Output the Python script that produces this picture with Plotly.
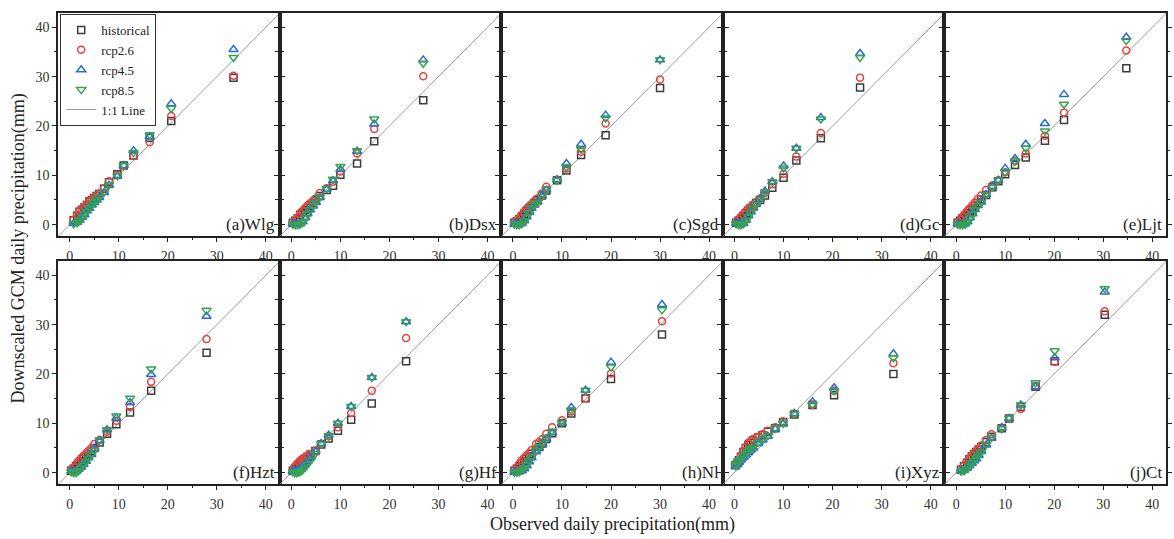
import plotly.graph_objects as go
from plotly.subplots import make_subplots

# ---------------- data ----------------
stations = ["(a)Wlg", "(b)Dsx", "(c)Sgd", "(d)Gc", "(e)Ljt",
            "(f)Hzt", "(g)Hf", "(h)Nl", "(i)Xyz", "(j)Ct"]
series_names = ["historical", "rcp2.6", "rcp4.5", "rcp8.5"]

obs_a = [0.8, 1.5, 2, 2.5, 3, 3.5, 4, 4.5, 5, 5.5, 6, 7, 8, 9.7, 11, 13, 16.3, 20.7, 33.4]
hist_a = [0.9, 1.8, 2.6, 3.0, 3.5, 4.0, 4.7, 5.0, 5.4, 5.8, 6.2, 7.3, 8.6, 10.2, 12.0, 14.0, 17.6, 21.0, 29.8]
r26_a = [1.0, 1.9, 2.7, 3.1, 3.6, 4.1, 4.8, 5.1, 5.5, 5.9, 6.3, 7.4, 8.8, 10.1, 11.9, 13.9, 16.7, 22.0, 30.2]
r45_a = [0.3, 0.5, 0.9, 1.5, 2.0, 2.8, 3.3, 4.0, 4.5, 5.0, 5.5, 6.5, 8.0, 9.8, 12.0, 15.0, 17.8, 24.5, 35.5]
r85_a = [0.2, 0.4, 0.8, 1.4, 2.1, 2.7, 3.4, 4.0, 4.6, 5.0, 5.6, 6.6, 8.1, 9.9, 12.0, 14.6, 18.2, 23.6, 33.9]

obs_b = [0.3, 0.8, 1.3, 1.8, 2.3, 2.8, 3.3, 3.8, 4.4, 5, 5.8, 7.2, 8.5, 10, 13.4, 16.9, 26.9]
hist_b = [0.4, 0.8, 1.3, 2.0, 2.4, 2.9, 3.4, 3.9, 4.4, 5.0, 5.8, 7.0, 7.9, 10.1, 12.4, 16.9, 25.2]
r26_b = [0.5, 0.9, 1.5, 2.2, 2.8, 3.3, 3.9, 4.3, 4.8, 5.3, 6.4, 7.4, 8.7, 10.8, 14.4, 19.4, 30.1]
r45_b = [0.2, 0.1, 0.1, 0.2, 0.6, 1.4, 2.2, 3.0, 3.8, 4.5, 5.5, 7.2, 8.9, 11.2, 14.9, 20.4, 33.4]
r85_b = [0.1, 0.0, 0.0, 0.1, 0.5, 1.3, 2.1, 3.0, 3.9, 4.6, 5.6, 7.3, 9.2, 11.8, 15.0, 21.4, 32.7]

obs_c = [0.3, 0.8, 1.3, 1.8, 2.3, 2.8, 3.3, 3.8, 4.4, 5, 5.9, 6.8, 9, 10.9, 13.9, 18.9, 30]
hist_c = [0.4, 0.7, 1.1, 1.6, 2.2, 2.8, 3.3, 3.8, 4.4, 5.0, 5.9, 6.9, 9.0, 11.0, 14.1, 18.1, 27.7]
r26_c = [0.5, 0.8, 1.3, 2.0, 2.6, 3.2, 3.7, 4.2, 4.8, 5.3, 6.3, 7.7, 9.1, 11.4, 14.8, 20.5, 29.4]
r45_c = [0.2, 0.1, 0.1, 0.3, 0.8, 1.6, 2.5, 3.3, 4.0, 4.6, 5.8, 7.0, 9.1, 12.4, 16.3, 22.2, 33.4]
r85_c = [0.1, 0.0, 0.0, 0.2, 0.7, 1.5, 2.4, 3.3, 4.0, 4.5, 5.7, 7.1, 9.0, 11.7, 15.3, 21.6, 33.4]

obs_d = [0.3, 0.8, 1.3, 1.8, 2.3, 2.8, 3.3, 3.8, 4.4, 5.2, 6.2, 7.7, 10, 12.6, 17.6, 25.6]
hist_d = [0.4, 0.8, 1.2, 1.7, 2.3, 2.8, 3.3, 3.8, 4.4, 5.0, 5.9, 7.5, 9.5, 13.0, 17.5, 27.8]
r26_d = [0.5, 1.0, 1.6, 2.1, 2.7, 3.2, 3.6, 4.1, 4.6, 5.3, 6.4, 8.2, 10.3, 13.8, 18.6, 29.8]
r45_d = [0.3, 0.2, 0.1, 0.3, 0.9, 1.8, 2.6, 3.4, 4.2, 5.2, 6.8, 8.7, 11.9, 15.5, 21.7, 34.7]
r85_d = [0.2, 0.0, 0.0, 0.2, 0.7, 1.6, 2.5, 3.3, 4.1, 5.1, 6.6, 8.7, 11.5, 15.5, 21.4, 33.9]

obs_e = [0.3, 0.8, 1.3, 1.8, 2.3, 2.8, 3.3, 3.8, 4.4, 5.1, 6.1, 7.4, 8.6, 10, 12, 14.2, 18.1, 22, 34.7]
hist_e = [0.4, 0.8, 1.3, 1.8, 2.3, 2.8, 3.3, 3.8, 4.4, 5.1, 6.0, 7.6, 8.8, 10.2, 12.1, 13.6, 17.0, 21.2, 31.7]
r26_e = [0.5, 1.0, 1.6, 2.2, 2.8, 3.3, 3.9, 4.5, 5.2, 5.9, 7.0, 8.0, 9.0, 10.6, 12.9, 14.4, 18.0, 22.7, 35.3]
r45_e = [0.2, 0.1, 0.0, 0.2, 0.6, 1.4, 2.2, 3.1, 3.9, 4.6, 6.1, 7.7, 9.0, 11.4, 13.4, 16.3, 20.5, 26.4, 38.0]
r85_e = [0.1, 0.0, 0.0, 0.1, 0.5, 1.3, 2.1, 3.0, 3.8, 4.5, 6.1, 7.6, 9.0, 10.7, 12.9, 15.5, 19.0, 24.4, 37.3]

obs_f = [0.3, 0.8, 1.3, 1.8, 2.3, 2.8, 3.3, 3.8, 4.4, 5, 6.1, 7.6, 9.5, 12.3, 16.6, 27.9]
hist_f = [0.4, 0.8, 1.3, 1.8, 2.3, 2.8, 3.3, 3.8, 4.4, 5.0, 6.1, 7.9, 9.8, 12.2, 16.6, 24.3]
r26_f = [0.6, 1.1, 1.7, 2.3, 2.9, 3.4, 3.9, 4.4, 5.0, 5.8, 6.6, 8.3, 10.5, 13.3, 18.4, 27.1]
r45_f = [0.3, 0.2, 0.3, 0.7, 1.1, 1.7, 2.3, 3.0, 3.7, 4.8, 6.5, 8.7, 11.1, 14.2, 19.9, 31.7]
r85_f = [0.2, 0.0, 0.0, 0.4, 0.9, 1.5, 2.2, 2.9, 3.6, 4.6, 6.6, 8.7, 11.5, 15.1, 21.0, 32.9]

obs_g = [0.3, 0.7, 1.1, 1.5, 1.9, 2.3, 2.8, 3.3, 3.9, 4.9, 6.1, 7.6, 9.5, 12.2, 16.4, 23.4]
hist_g = [0.4, 0.8, 1.2, 1.6, 2.0, 2.4, 2.8, 3.2, 3.7, 4.4, 5.7, 6.9, 8.5, 10.7, 14.0, 22.6]
r26_g = [0.5, 1.2, 1.7, 2.1, 2.5, 2.8, 3.1, 3.4, 3.8, 4.5, 5.8, 7.4, 9.2, 12.1, 16.6, 27.3]
r45_g = [0.3, 0.3, 0.3, 0.5, 0.8, 1.2, 1.7, 2.3, 3.0, 4.3, 5.9, 7.6, 10.0, 13.4, 19.3, 30.6]
r85_g = [0.2, 0.0, 0.0, 0.1, 0.3, 0.6, 1.1, 1.7, 2.5, 3.9, 5.8, 7.5, 10.0, 13.4, 19.3, 30.6]

obs_h = [0.3, 0.8, 1.3, 1.8, 2.3, 2.8, 3.3, 3.8, 4.7, 5.3, 6, 6.8, 8, 10, 11.9, 14.8, 20, 30.4]
hist_h = [0.4, 0.8, 1.3, 1.8, 2.3, 2.8, 3.3, 3.8, 4.6, 5.2, 5.9, 6.8, 8.0, 10.0, 12.0, 15.1, 19.0, 28.0]
r26_h = [0.5, 1.1, 1.8, 2.5, 3.0, 3.5, 4.0, 4.6, 5.8, 6.2, 6.8, 7.9, 9.2, 10.6, 12.4, 15.1, 20.1, 30.7]
r45_h = [0.2, 0.1, 0.2, 0.4, 0.8, 1.4, 2.2, 3.0, 4.3, 5.0, 5.8, 6.9, 8.1, 10.0, 13.2, 16.7, 22.4, 34.1]
r85_h = [0.1, 0.1, 0.2, 0.5, 1.0, 1.6, 2.4, 3.2, 4.5, 5.2, 6.0, 7.1, 8.4, 10.1, 12.7, 16.7, 21.4, 33.0]

obs_i = [0.2, 0.6, 0.9, 1.3, 1.8, 2.3, 2.8, 3.3, 3.8, 4.8, 5.7, 6.8, 8.3, 9.9, 12.2, 15.9, 20.3, 32.4]
hist_i = [1.5, 2.0, 2.5, 3.2, 4.2, 5.0, 5.6, 6.0, 6.5, 7.1, 7.6, 8.3, 9.0, 10.2, 11.8, 13.7, 15.7, 20.0]
r26_i = [1.6, 2.1, 2.6, 3.4, 4.4, 5.2, 6.0, 6.4, 6.8, 7.3, 7.8, 8.5, 9.2, 10.4, 11.9, 13.8, 16.6, 22.2]
r45_i = [1.3, 1.7, 2.1, 2.6, 3.1, 3.6, 4.1, 4.6, 5.0, 5.9, 6.6, 7.4, 8.8, 9.9, 12.0, 14.4, 17.2, 24.1]
r85_i = [1.4, 1.8, 2.3, 2.8, 3.4, 3.9, 4.4, 4.8, 5.2, 6.1, 6.8, 7.5, 9.0, 10.0, 11.9, 13.8, 16.6, 23.3]

obs_j = [1.0, 1.6, 2.2, 2.7, 3.2, 3.7, 4.1, 4.6, 5.1, 6.1, 7.2, 9.3, 10.8, 13.2, 16.2, 20.1, 30.3]
hist_j = [0.6, 1.3, 2.0, 2.7, 3.3, 3.8, 4.2, 4.7, 5.2, 6.2, 7.3, 9.0, 11.0, 13.3, 17.4, 22.6, 32.0]
r26_j = [0.7, 1.5, 2.2, 2.9, 3.5, 4.0, 4.4, 4.9, 5.5, 6.6, 7.8, 9.1, 11.0, 12.9, 17.5, 22.5, 32.7]
r45_j = [0.4, 0.5, 0.9, 1.4, 1.9, 2.4, 2.8, 3.5, 4.3, 5.6, 7.0, 9.1, 11.0, 13.7, 17.4, 23.3, 36.6]
r85_j = [0.3, 0.4, 0.8, 1.3, 2.0, 2.5, 3.0, 3.6, 4.2, 5.7, 7.1, 8.9, 11.1, 13.7, 18.2, 24.7, 37.3]

tick_vals = [0, 10, 20, 30, 40]
one_to_one = [-5, 50]

panels = [
    (obs_a, [hist_a, r26_a, r45_a, r85_a]),
    (obs_b, [hist_b, r26_b, r45_b, r85_b]),
    (obs_c, [hist_c, r26_c, r45_c, r85_c]),
    (obs_d, [hist_d, r26_d, r45_d, r85_d]),
    (obs_e, [hist_e, r26_e, r45_e, r85_e]),
    (obs_f, [hist_f, r26_f, r45_f, r85_f]),
    (obs_g, [hist_g, r26_g, r45_g, r85_g]),
    (obs_h, [hist_h, r26_h, r45_h, r85_h]),
    (obs_i, [hist_i, r26_i, r45_i, r85_i]),
    (obs_j, [hist_j, r26_j, r45_j, r85_j]),
]

# ---------------- style ----------------
FONT = "Liberation Serif"
colors = ["#3c3c3c", "#e5433f", "#2a6bd6", "#35a350"]
symbols = ["square-open", "circle-open", "triangle-up-open", "triangle-down-open"]
sizes = [7, 7, 8, 8]

fig = make_subplots(rows=2, cols=5, horizontal_spacing=0, vertical_spacing=25 / 471)

for k, (obs, ys) in enumerate(panels):
    r = k // 5 + 1
    c = k % 5 + 1
    fig.add_trace(go.Scatter(
        x=one_to_one, y=one_to_one, mode="lines",
        line=dict(color="#9a9a9a", width=1),
        name="1:1 Line", legendrank=5, showlegend=(k == 0)), row=r, col=c)
    for s in range(4):
        fig.add_trace(go.Scatter(
            x=obs, y=ys[s], mode="markers", name=series_names[s],
            legendrank=s + 1,
            marker=dict(symbol=symbols[s], size=sizes[s], color=colors[s],
                        line=dict(width=1.5, color=colors[s])),
            showlegend=(k == 0)), row=r, col=c)
    fig.add_annotation(
        text=stations[k], xref="x domain" if k == 0 else f"x{k+1} domain",
        yref="y domain" if k == 0 else f"y{k+1} domain",
        x=0.99, y=0.0, xanchor="right", yanchor="bottom", showarrow=False,
        font=dict(family=FONT, size=17, color="#222"))

axis_common = dict(
    range=[-2.4, 42.8], tickvals=tick_vals, ticks="outside", ticklen=4,
    tickwidth=1.2, tickcolor="#222", showline=True, linecolor="#222",
    linewidth=1.5, showgrid=False, zeroline=False,
    tickfont=dict(family=FONT, size=14, color="#333"),
    minor=dict(ticks="outside", ticklen=2.5, tickwidth=1, tickcolor="#222",
               dtick=5, tick0=0, showgrid=False),
)

for k in range(10):
    c = k % 5 + 1
    xa = "xaxis" if k == 0 else f"xaxis{k+1}"
    ya = "yaxis" if k == 0 else f"yaxis{k+1}"
    fig.layout[xa].update(**axis_common, mirror=True, ticklabelstandoff=2)
    fig.layout[ya].update(**axis_common, mirror="ticks",
                          showticklabels=(c == 1))
    fig.layout[ya].update(range=[-2.3, 42.9])

fig.add_annotation(text="Observed daily precipitation(mm)", xref="paper",
                   yref="paper", x=0.5, y=-0.086, xanchor="center",
                   yanchor="middle", showarrow=False,
                   font=dict(family=FONT, size=18, color="#222"))
fig.add_annotation(text="Downscaled GCM daily precipitation(mm)",
                   xref="paper", yref="paper", x=-0.036, y=0.5,
                   textangle=-90, xanchor="center", yanchor="middle",
                   showarrow=False, font=dict(family=FONT, size=18, color="#222"))

fig.update_layout(
    width=1174, height=539,
    margin=dict(l=58, r=2, t=13, b=55),
    paper_bgcolor="white", plot_bgcolor="white",
    legend=dict(x=0.002, y=0.998, xanchor="left", yanchor="top",
                bgcolor="white", bordercolor="#333", borderwidth=1,
                font=dict(family=FONT, size=13, color="#222"),
                tracegroupgap=0, itemwidth=30),
    showlegend=True,
)

fig.write_html("out.html")
